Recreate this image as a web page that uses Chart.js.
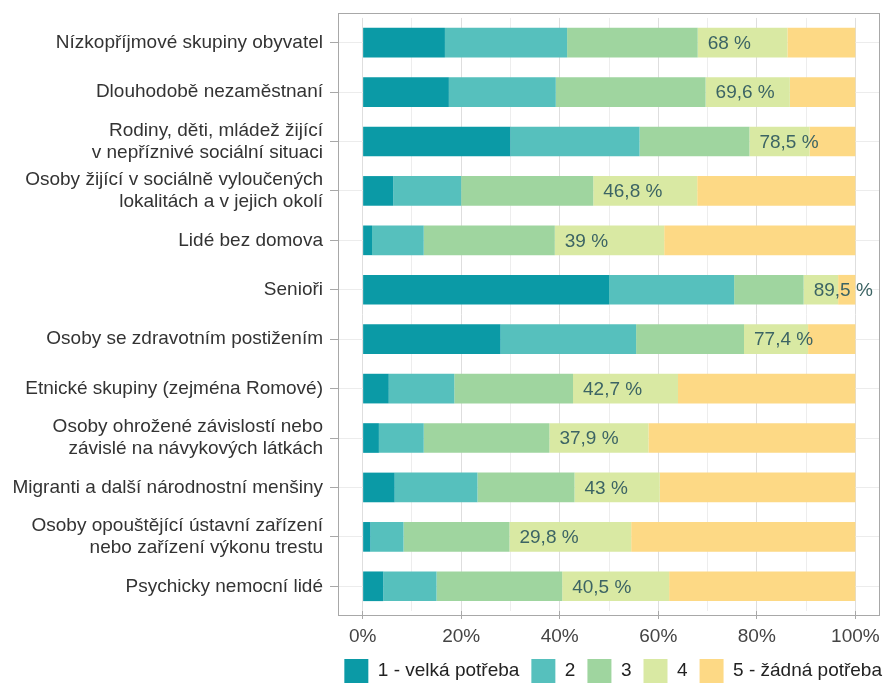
<!DOCTYPE html>
<html lang="cs">
<head>
<meta charset="utf-8">
<title>Potřeba služeb podle cílových skupin</title>
<script src="https://cdn.jsdelivr.net/npm/chart.js@4/dist/chart.umd.min.js"></script>
<style>
  html, body { margin: 0; padding: 0; background: #fff; }
</style>
</head>
<body>
<canvas id="needChart" width="889" height="688"></canvas>
<script>
// Data (% of answers)
const groups = [
    'Nízkopříjmové skupiny obyvatel',
    'Dlouhodobě nezaměstnaní',
    ['Rodiny, děti, mládež žijící', 'v nepříznivé sociální situaci'],
    ['Osoby žijící v sociálně vyloučených', 'lokalitách a v jejich okolí'],
    'Lidé bez domova',
    'Senioři',
    'Osoby se zdravotním postižením',
    'Etnické skupiny (zejména Romové)',
    ['Osoby ohrožené závislostí nebo', 'závislé na návykových látkách'],
    'Migranti a další národnostní menšiny',
    ['Osoby opouštějící ústavní zařízení', 'nebo zařízení výkonu trestu'],
    'Psychicky nemocní lidé'
];
const levelNames = ['1 - velká potřeba', '2', '3', '4', '5 - žádná potřeba'];
const level1 = [16.7, 17.5, 30.0, 6.2, 1.9, 50.0, 28.0, 5.3, 3.3, 6.5, 1.6, 4.2];
const level2 = [24.8, 21.7, 26.2, 13.8, 10.5, 25.4, 27.5, 13.3, 9.1, 16.8, 6.7, 10.8];
const level3 = [26.5, 30.4, 22.3, 26.8, 26.6, 14.1, 21.9, 24.1, 25.5, 19.7, 21.5, 25.5];
const level4 = [18.2, 17.1, 12.2, 21.1, 22.2, 7.0, 13.0, 21.3, 20.1, 17.3, 24.7, 21.7];
const level5 = [13.8, 13.3, 9.3, 32.1, 38.8, 3.5, 9.6, 36.0, 42.0, 39.7, 45.5, 37.8];
const needShare = ['68 %', '69,6 %', '78,5 %', '46,8 %', '39 %', '89,5 %', '77,4 %', '42,7 %', '37,9 %', '43 %', '29,8 %', '40,5 %'];
const xTicks = [0, 10, 20, 30, 40, 50, 60, 70, 80, 90, 100];

const FONT = "'Liberation Sans', Arial, sans-serif";
const colors = ['#0b9aa6', '#56c0bd', '#9fd59f', '#d9e9a3', '#fdd985'];
const series = [level1, level2, level3, level4, level5];

Chart.defaults.font.family = FONT;
Chart.defaults.font.size = 19;
Chart.defaults.color = '#333';

// grey frame round the panel (ggplot style, a little taller than the bands)
const panelFrame = {
    id: 'panelFrame',
    afterDatasetsDraw(chart) {
        const { ctx, chartArea: a } = chart;
        const pad = (a.bottom - a.top) / groups.length * 0.1;
        ctx.save();
        ctx.strokeStyle = '#a8a8a8';
        ctx.lineWidth = 1;
        ctx.strokeRect(Math.round(a.left) + 0.5, Math.round(a.top - pad) + 0.5,
            Math.round(a.right - a.left) - 1, Math.round(a.bottom - a.top + 2 * pad) - 1);
        ctx.restore();
    }
};

// "1 to 3" share written just after the third segment
const shareLabels = {
    id: 'shareLabels',
    afterDatasetsDraw(chart) {
        const ctx = chart.ctx;
        const meta = chart.getDatasetMeta(2);
        ctx.save();
        ctx.font = '19px ' + FONT;
        ctx.fillStyle = '#3c6464';
        ctx.textAlign = 'left';
        ctx.textBaseline = 'middle';
        meta.data.forEach((bar, i) => ctx.fillText(needShare[i], bar.x + 10, bar.y + 1));
        ctx.restore();
    }
};

// move legend under the panel
const legendShift = {
    id: 'legendShift',
    afterLayout(chart) {
        const lg = chart.legend;
        lg.right = 894;
        lg.top = 647;
        lg.bottom = lg.top + lg.height;
    }
};

const ctx = document.getElementById('needChart').getContext('2d');
const needChart = new Chart(ctx, {
    type: 'bar',
    data: {
        labels: groups,
        datasets: series.map((vals, i) => ({
            label: levelNames[i],
            data: vals,
            backgroundColor: colors[i],
            borderWidth: 0,
            categoryPercentage: 1,
            barPercentage: 0.6
        }))
    },
    options: {
        indexAxis: 'y',
        responsive: false,
        animation: false,
        events: [],
        layout: { padding: { top: 14, right: 9, bottom: 0, left: 0 } },
        plugins: {
            legend: {
                position: 'bottom',
                align: 'end',
                labels: { boxWidth: 24, boxHeight: 24, padding: 12, color: '#222', font: { size: 19 } }
            },
            tooltip: { enabled: false }
        },
        scales: {
            x: {
                stacked: true,
                min: -5,
                max: 105,
                afterBuildTicks: axis => { axis.ticks = xTicks.map(v => ({ value: v })); },
                afterFit: axis => { axis.height = 31; },
                border: { display: false },
                grid: {
                    color: c => (c.tick && c.tick.value % 20 === 0) ? '#dedede' : '#ededed',
                    tickColor: c => (c.tick && c.tick.value % 20 === 0) ? '#a8a8a8' : 'rgba(0,0,0,0)',
                    tickLength: 8
                },
                ticks: {
                    autoSkip: false,
                    maxRotation: 0,
                    padding: 6,
                    color: '#444',
                    callback: v => v % 20 === 0 ? v + '%' : ''
                }
            },
            y: {
                stacked: true,
                afterFit: axis => { axis.width = 338; },
                border: { display: false },
                grid: { offset: false, color: '#ececec', tickColor: '#a8a8a8', tickLength: 8 },
                ticks: { padding: 7, color: '#333', font: { lineHeight: 1.15 } }
            }
        }
    },
    plugins: [panelFrame, shareLabels, legendShift]
});
</script>
</body>
</html>
